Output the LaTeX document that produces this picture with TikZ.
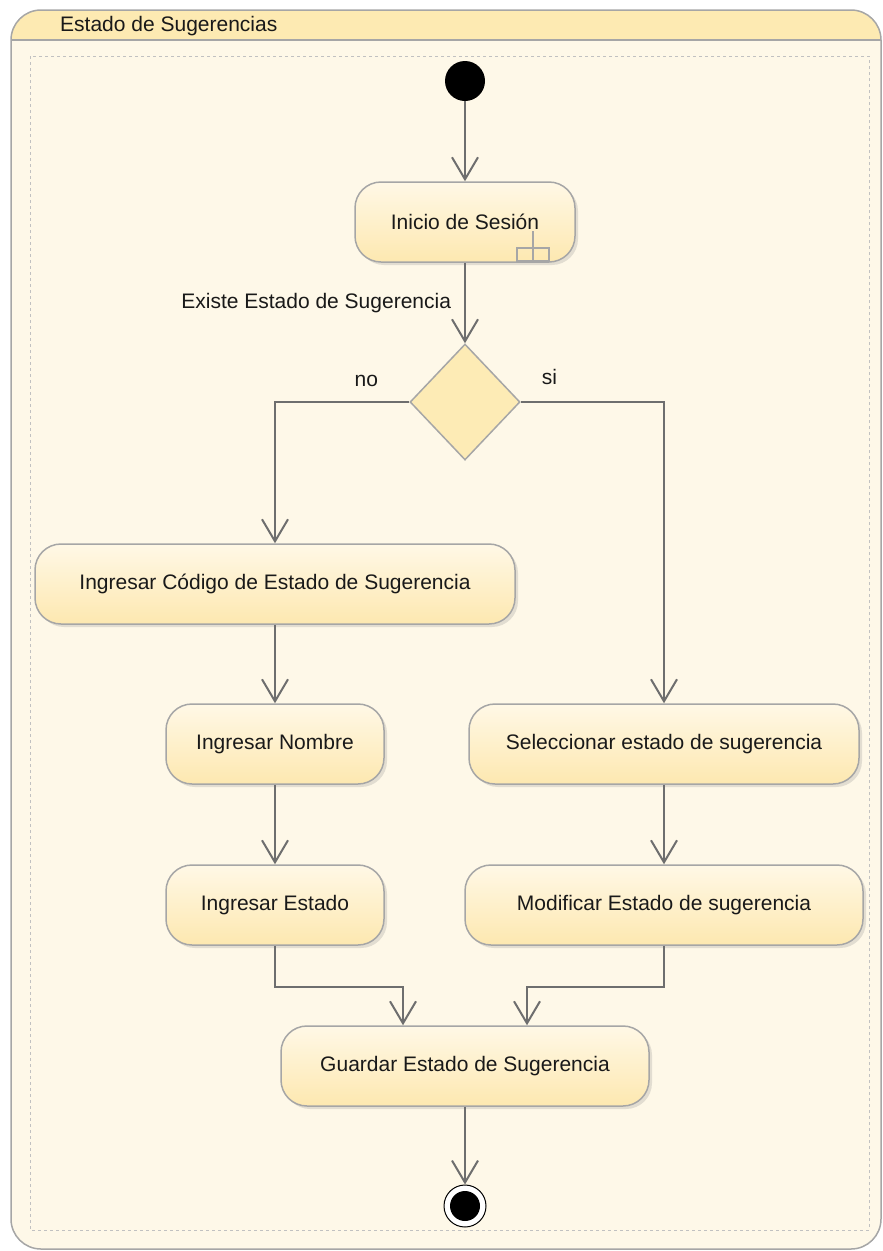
\documentclass[tikz,border=0pt]{standalone}
\usepackage{fontspec}
\setmainfont{Liberation Sans}
\usetikzlibrary{arrows.meta,shapes.geometric,shadows}

\definecolor{laneback}{HTML}{FEF8E8}
\definecolor{lanehead}{HTML}{FDEAB2}
\definecolor{acttop}{HTML}{FFF8E6}
\definecolor{actbottom}{HTML}{FDE8B0}
\definecolor{decfill}{HTML}{FDEBB5}
\definecolor{edgegray}{HTML}{A6A6A6}
\definecolor{flowgray}{HTML}{6E6E6E}

\tikzset{
  actividad/.style={rectangle, rounded corners=26pt, draw=edgegray, line width=1.5pt,
    top color=acttop, bottom color=actbottom, minimum height=80pt, inner sep=0pt,
    text=black!90, font=\fontsize{21}{25}\selectfont,
    drop shadow={opacity=0.22, shadow xshift=3pt, shadow yshift=-3pt}},
  decision/.style={diamond, draw=edgegray, line width=1.5pt, fill=decfill,
    minimum width=110pt, minimum height=116pt, inner sep=0pt},
  inicial/.style={circle, fill=black, minimum size=40pt, inner sep=0pt},
  final/.style={circle, draw=black, line width=1pt, fill=white, minimum size=42pt, inner sep=0pt,
    path picture={\fill[black] (path picture bounding box.center) circle (15pt);}},
  etiqueta/.style={inner sep=0pt, text=black!90, font=\fontsize{21}{25}\selectfont},
  flujo/.style={draw=flowgray, line width=2pt, -{Straight Barb[length=22pt, width=26pt]}}
}

\begin{document}
\begin{tikzpicture}[x=1pt, y=-1pt]
  \useasboundingbox (0,0) rectangle (883,1251);

  \begin{scope}
    \clip[rounded corners=30pt] (11,10) rectangle (881,1249);
    \fill[laneback] (11,10) rectangle (881,1249);
    \fill[lanehead] (11,10) rectangle (881,40);
  \end{scope}
  \draw[edgegray, line width=1.5pt] (11,40) -- (881,40);
  \draw[edgegray, line width=1.5pt, rounded corners=30pt] (11,10) rectangle (881,1249);
  \node[etiqueta, anchor=west] (titulo) at (60,26) {Estado de Sugerencias};
  \draw[edgegray!70, dashed, line width=1pt] (30,56) rectangle (869,1230);

  \node[inicial] (ini) at (465,81) {};
  \node[actividad, minimum width=220pt] (sesion) at (465,222) {Inicio de Sesión};
  \node[decision] (existe) at (465,402) {};
  \node[actividad, minimum width=480pt] (codigo) at (275,584) {Ingresar Código de Estado de Sugerencia};
  \node[actividad, minimum width=218pt] (nombre) at (275,744) {Ingresar Nombre};
  \node[actividad, minimum width=390pt] (seleccionar) at (664,744) {Seleccionar estado de sugerencia};
  \node[actividad, minimum width=218pt] (estado) at (275,905) {Ingresar Estado};
  \node[actividad, minimum width=398pt] (modificar) at (664,905) {Modificar Estado de sugerencia};
  \node[actividad, minimum width=368pt] (guardar) at (465,1066) {Guardar Estado de Sugerencia};
  \node[final] (fin) at (465,1206) {};

  \draw[edgegray, line width=1.2pt] ([shift={(52,26)}]sesion.center) rectangle ([shift={(84,39)}]sesion.center);
  \draw[edgegray, line width=1.2pt] ([shift={(68,9)}]sesion.center) -- ([shift={(68,39)}]sesion.center);

  \draw[flujo] (ini) -- (sesion);
  \draw[flujo] (sesion) -- node[etiqueta, left=13pt] {Existe Estado de Sugerencia} (existe);
  \draw[flujo] (existe.west) -| node[etiqueta, pos=0.16, above=14pt] {no} (codigo);
  \draw[flujo] (existe.east) -| node[etiqueta, pos=0.1, above=16pt] {si} (seleccionar);
  \draw[flujo] (codigo) -- (nombre);
  \draw[flujo] (nombre) -- (estado);
  \draw[flujo] (seleccionar) -- (modificar);
  \draw[flujo] (estado) -- ++(0,82) -| ([xshift=-62pt]guardar.north);
  \draw[flujo] (modificar) -- ++(0,82) -| ([xshift=62pt]guardar.north);
  \draw[flujo] (guardar) -- (fin);
\end{tikzpicture}
\end{document}
